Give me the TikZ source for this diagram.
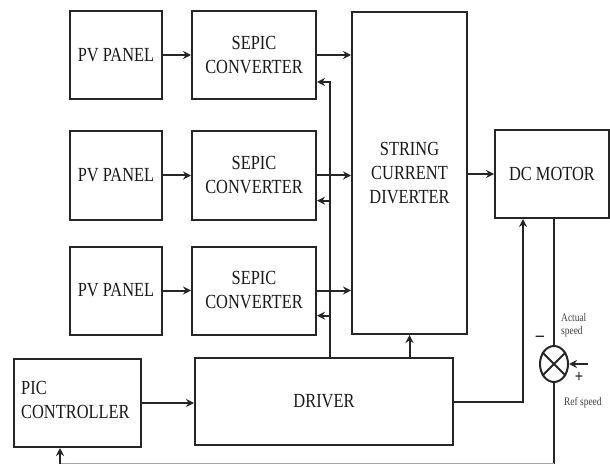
\documentclass[tikz,border=0pt]{standalone}
\usepackage{fontspec}
\setmainfont{Liberation Serif}[FakeStretch=0.82]
\usetikzlibrary{arrows.meta,shapes.geometric,calc}
\begin{document}
\begin{tikzpicture}[x=1pt,y=-1pt,
  blk/.style={draw=black!85,line width=2pt,inner sep=0pt,text=black!90,
    font=\fontsize{20}{24}\selectfont,align=center},
  arr/.style={draw=black!85,line width=2pt,-{Stealth[length=8pt,width=8pt]}},
  ln/.style={draw=black!85,line width=2pt},
  small/.style={text=black!75,font=\fontsize{11.5}{13}\selectfont,align=left,inner sep=0pt}]
\useasboundingbox (0,0) rectangle (610,465);
% boxes
\node[blk,minimum width=92pt,minimum height=88pt] (pv1) at (116,55) {PV PANEL};
\node[blk,minimum width=92pt,minimum height=88pt] (pv2) at (116,175.5) {PV PANEL};
\node[blk,minimum width=92pt,minimum height=88pt] (pv3) at (116,290.5) {PV PANEL};
\node[blk,minimum width=124pt,minimum height=88pt] (s1) at (254,55) {SEPIC\\CONVERTER};
\node[blk,minimum width=124pt,minimum height=88pt] (s2) at (254,175.5) {SEPIC\\CONVERTER};
\node[blk,minimum width=124pt,minimum height=88pt] (s3) at (254,290.5) {SEPIC\\CONVERTER};
\node[blk,minimum width=115pt,minimum height=322pt] (scd) at (409.5,173) {STRING\\CURRENT\\DIVERTER};
\node[blk,minimum width=114pt,minimum height=88pt] (dc) at (552,174) {DC MOTOR};
\node[blk,minimum width=258pt,minimum height=87pt] (drv) at (324,401.5) {DRIVER};
\node[blk,minimum width=127pt,minimum height=88pt] (pic) at (77.5,403) {};
\node[anchor=west,align=left,inner sep=0pt,text=black!90,font=\fontsize{20}{24}\selectfont] (pict) at (21,400) {PIC\\CONTROLLER};
\node[draw=black!85,line width=2pt,ellipse,minimum width=28pt,minimum height=36pt,inner sep=0pt] (sum) at (554,364) {};
\draw[black!85,line width=1.8pt] (sum.45) -- (sum.225) (sum.135) -- (sum.315);
% coordinates
\coordinate (fbx) at (330,0);
\coordinate (bot) at (60,463.5);
\coordinate (refin) at (588,364);
% PV -> SEPIC
\draw[arr] (pv1.east) -- (s1.west);
\draw[arr] (pv2.east) -- (s2.west);
\draw[arr] (pv3.east) -- (s3.west);
% SEPIC -> string
\draw[arr] (s1.east) -- (s1.east -| scd.west);
\draw[arr] (s2.east) -- (s2.east -| scd.west);
\draw[arr] (s3.east) -- (s3.east -| scd.west);
% driver feedback to sepics
\draw[arr] (drv.north -| fbx) |- ($(s1.south east)!0.2!(s1.north east)$);
\draw[arr] (drv.north -| fbx) |- ($(s2.south east)!0.22!(s2.north east)$);
\draw[arr] (drv.north -| fbx) |- ($(s3.south east)!0.22!(s3.north east)$);
% driver -> string
\draw[arr] (drv.north -| scd.south) -- (scd.south);
% string -> dc
\draw[arr] (scd.east |- dc.west) -- (dc.west);
% pic -> driver
\draw[arr] (pic.east) -- (pic.east -| drv.west);
% driver -> dc
\draw[arr] (drv.east) -| ($(dc.south west)!0.25!(dc.south east)$);
% dc -> sum -> bottom
\draw[ln] (sum.north |- dc.south) -- (sum.north);
\draw[ln] (sum.south) -- (sum.south |- bot);
\draw[draw=black!35,line width=1pt] (sum.south |- bot) -- (bot);
\draw[arr] (bot) -- (bot |- pic.south);
% ref speed
\draw[arr] (refin) -- (sum.east);
\node[text=black!85,font=\bfseries\fontsize{20}{20}\selectfont,inner sep=0pt] (minus) at (540,339) {\textendash};
\node[text=black!85,font=\bfseries\fontsize{18}{18}\selectfont,inner sep=0pt] (plus) at (579,377) {+};
\node[small,anchor=west] (act) at (561,325) {Actual\\speed};
\node[small,anchor=west] (ref) at (564,403) {Ref speed};
\end{tikzpicture}
\end{document}
